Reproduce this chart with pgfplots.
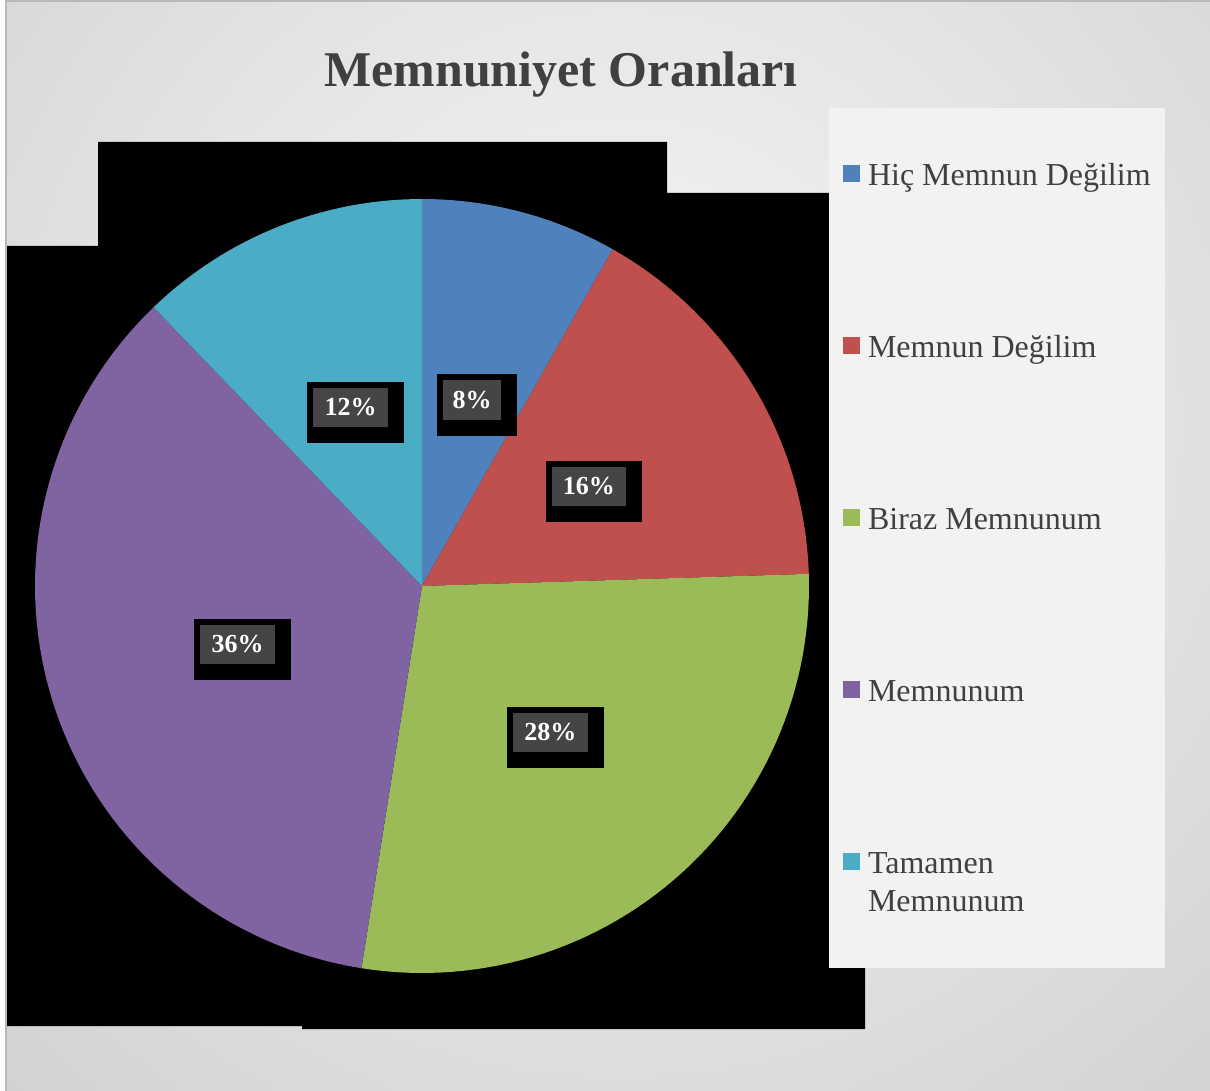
\documentclass[border=0pt]{standalone}
\usepackage{pgfplots}
\pgfplotsset{compat=1.18}
\usepackage{fontspec}
\setmainfont{Liberation Serif}

\definecolor{cBlue}{HTML}{4F81BD}
\definecolor{cRed}{HTML}{C0504D}
\definecolor{cGreen}{HTML}{9BBB59}
\definecolor{cPurple}{HTML}{8064A2}
\definecolor{cTeal}{HTML}{4BACC6}
\definecolor{txt}{HTML}{404040}
\definecolor{legbg}{HTML}{F2F2F2}
\definecolor{lblbg}{HTML}{454545}
\definecolor{bgA}{HTML}{F6F6F6}
\definecolor{bgB}{HTML}{E4E4E4}
\definecolor{bgC}{HTML}{D0D0D0}
\definecolor{bgD}{HTML}{C5C5C5}
\pgfdeclareradialshading{bgshade}{\pgfpoint{0bp}{0bp}}{color(0bp)=(bgA); color(6bp)=(bgB); color(12bp)=(bgC); color(16bp)=(bgD); color(50bp)=(bgD)}

% shares (percent), clockwise from 12 o'clock
\def\vA{8.2}  % Hic Memnun Degilim
\def\vB{16.3} % Memnun Degilim
\def\vC{28.0} % Biraz Memnunum
\def\vD{35.3} % Memnunum
\def\vE{12.2} % Tamamen Memnunum

\newcommand{\lbl}[5]{% outer box x1,y1,x2,y2 ; text
  \fill[black] (axis cs:#1,#2) rectangle (axis cs:#3,#4);
  \fill[lblbg] (axis cs:#1+6,#2+6) rectangle (axis cs:#3-16,#4-16);
  \node[text=white, font=\bfseries\fontsize{13}{15}\selectfont] at (axis cs:{(#1+#3-10)/2},{(#2+#4-10)/2}) {#5};
}

\begin{document}
\begin{tikzpicture}
\pgfmathsetmacro\aA{0}
\pgfmathsetmacro\aB{3.6*\vA}
\pgfmathsetmacro\aC{\aB+3.6*\vB}
\pgfmathsetmacro\aD{\aC+3.6*\vC}
\pgfmathsetmacro\aE{\aD+3.6*\vD}
\pgfmathsetmacro\aF{\aE+3.6*\vE}
\begin{axis}[
    x=0.5pt, y=0.5pt,
    xmin=0, xmax=1210, ymin=0, ymax=1091,
    y dir=reverse,
    hide axis,
    clip=true,
    legend cell align=left,
    legend style={at={(axis cs:843,163)}, anchor=north west, draw=none, fill=none,
        inner sep=0pt, outer sep=0pt, row sep=71.5pt, column sep=4pt,
        font=\fontsize{16}{19}\selectfont, text=txt,
        nodes={inner sep=0pt, text height=11pt, text depth=3.5pt}},
    legend image code/.code={\fill[#1] (0pt,-2pt) rectangle (8.5pt,6.5pt);},
]
% background
\fill[white] (axis cs:0,0) rectangle (axis cs:1210,1091);
\shade[shading=bgshade] (axis cs:620,420) circle[radius=1000pt];
\fill[white] (axis cs:0,0) rectangle (axis cs:5,1091);
\fill[white] (axis cs:0,0) rectangle (axis cs:1210,1);
\draw[black!28, line width=1pt] (axis cs:5.5,1091) -- (axis cs:5.5,1.5) -- (axis cs:1210,1.5);
% plot area
\fill[black] (axis cs:7,246) -- (axis cs:98,246) -- (axis cs:98,142) -- (axis cs:667,142)
  -- (axis cs:667,193) -- (axis cs:865,193) -- (axis cs:865,1029) -- (axis cs:302,1029)
  -- (axis cs:302,1026) -- (axis cs:7,1026) -- cycle;
\fill[legbg] (axis cs:829,108) rectangle (axis cs:1165,968);

\addplot[draw=none, fill=cBlue, domain=\aA:\aB, samples=30]
  ({422+387*sin(x)},{586-387*cos(x)}) -- (axis cs:422,586) -- cycle;
\addplot[draw=none, fill=cRed, domain=\aB:\aC, samples=40]
  ({422+387*sin(x)},{586-387*cos(x)}) -- (axis cs:422,586) -- cycle;
\addplot[draw=none, fill=cGreen, domain=\aC:\aD, samples=60]
  ({422+387*sin(x)},{586-387*cos(x)}) -- (axis cs:422,586) -- cycle;
\addplot[draw=none, fill=cPurple, domain=\aD:\aE, samples=70]
  ({422+387*sin(x)},{586-387*cos(x)}) -- (axis cs:422,586) -- cycle;
\addplot[draw=none, fill=cTeal, domain=\aE:\aF, samples=30]
  ({422+387*sin(x)},{586-387*cos(x)}) -- (axis cs:422,586) -- cycle;
\legend{Hiç Memnun Değilim, Memnun Değilim, Biraz Memnunum, Memnunum,
  {\parbox[t]{5cm}{Tamamen\\Memnunum}}}

% data labels
\lbl{437}{374}{517}{436}{8\%}
\lbl{546}{461}{642}{522}{16\%}
\lbl{507}{707}{604}{768}{28\%}
\lbl{194}{619}{291}{680}{36\%}
\lbl{307}{382}{404}{443}{12\%}

\node[anchor=base, text=txt, font=\bfseries\fontsize{25}{30}\selectfont] at (axis cs:561,87) {Memnuniyet Oranları};
\end{axis}
\pgfresetboundingbox
\path (current axis.south west) rectangle (current axis.north east);
\end{tikzpicture}
\end{document}
